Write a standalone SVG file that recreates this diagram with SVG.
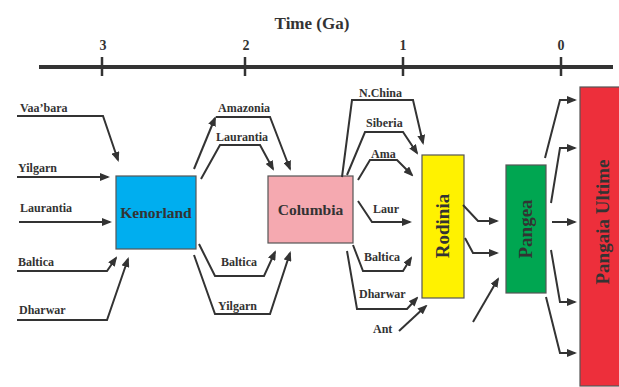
<svg xmlns="http://www.w3.org/2000/svg" width="619" height="387" viewBox="0 0 619 387">
<style>
text{font-family:"Liberation Serif","Times New Roman",serif;font-weight:bold;fill:#333}
.lbl{font-size:12px}
.box{stroke:#555;stroke-width:1.2}
.big{font-size:15.5px;text-anchor:middle}
.vert{font-size:19px;text-anchor:middle}
.axis{stroke:#333;stroke-width:4;fill:none}
.tick{stroke:#333;stroke-width:2.5}
.con{fill:none;stroke:#333;stroke-width:2;marker-end:url(#ah)}
.num{font-size:14px;text-anchor:middle}
</style>
<defs>
<marker id="ah" viewBox="0 0 10 8" refX="8" refY="4" markerWidth="10" markerHeight="8" markerUnits="userSpaceOnUse" orient="auto">
<path d="M0,0 L10,4 L0,8 z" fill="#333"/>
</marker>
</defs>
<rect width="619" height="387" fill="#fff"/>
<g id="timeaxis">
<text x="312" y="29" style="font-size:17px;text-anchor:middle">Time (Ga)</text>
<line class="axis" x1="39" y1="67" x2="613" y2="67"/>
<line class="tick" x1="102" y1="57" x2="102" y2="76"/>
<line class="tick" x1="245" y1="57" x2="245" y2="76"/>
<line class="tick" x1="403" y1="57" x2="403" y2="76"/>
<line class="tick" x1="561" y1="57" x2="561" y2="76"/>
<text class="num" x="103" y="50">3</text>
<text class="num" x="246" y="50">2</text>
<text class="num" x="403" y="50">1</text>
<text class="num" x="561" y="50">0</text>
</g>
<g id="kenorland">
<rect class="box" x="116" y="176" width="80" height="73" fill="#00aeef"/>
<text class="big" x="156" y="218">Kenorland</text>
</g>
<g id="columbia">
<rect class="box" x="268" y="176" width="85" height="67" fill="#f5a9b0"/>
<text class="big" x="310.5" y="215">Columbia</text>
</g>
<g id="rodinia">
<rect class="box" x="422" y="155" width="42" height="143" fill="#fff200"/>
<text class="vert" transform="translate(449,226) rotate(-90)">Rodinia</text>
</g>
<g id="pangea">
<rect class="box" x="506" y="165" width="40" height="128" fill="#00a651"/>
<text class="vert" transform="translate(532,229) rotate(-90)">Pangea</text>
</g>
<g id="pangaia">
<rect class="box" x="580" y="87" width="45" height="299" fill="#ed2f3b"/>
<text class="vert" transform="translate(609,222) rotate(-90)">Pangaia Ultime</text>
</g>
<g id="labels">
<text class="lbl" x="20" y="112">Vaa’bara</text>
<text class="lbl" x="18" y="172">Yilgarn</text>
<text class="lbl" x="20" y="212">Laurantia</text>
<text class="lbl" x="18" y="266">Baltica</text>
<text class="lbl" x="19" y="314">Dharwar</text>
<text class="lbl" x="218" y="112">Amazonia</text>
<text class="lbl" x="216" y="141">Laurantia</text>
<text class="lbl" x="221" y="266">Baltica</text>
<text class="lbl" x="218" y="310">Yilgarn</text>
<text class="lbl" x="359" y="97">N.China</text>
<text class="lbl" x="366" y="127">Siberia</text>
<text class="lbl" x="371" y="158">Ama</text>
<text class="lbl" x="373" y="213">Laur</text>
<text class="lbl" x="364" y="261">Baltica</text>
<text class="lbl" x="359" y="298">Dharwar</text>
<text class="lbl" x="373" y="333">Ant</text>
</g>
<g id="connectors">
<path class="con" d="M17,116 H103 L118,160"/>
<path class="con" d="M17,177 H108"/>
<path class="con" d="M19,222 H110"/>
<path class="con" d="M17,271 H107 L116,258"/>
<path class="con" d="M17,320 H107 L128,259"/>
<path class="con" d="M194,169 L215,118"/>
<path class="con" d="M216,117 H270 L290,169"/>
<path class="con" d="M201,179 L220,145 H260 L273,169"/>
<path class="con" d="M199,244 L215,276 H264 L275,252"/>
<path class="con" d="M194,255 L215,314 H270 L290,253"/>
<path class="con" d="M342,177 L352,100 H413 L423,143"/>
<path class="con" d="M347,175 L365,132 H403 L417,153"/>
<path class="con" d="M358,180 L370,160 H397 L412,175"/>
<path class="con" d="M358,201 L372,222 H410"/>
<path class="con" d="M353,245 L363,271 H403 L411,258"/>
<path class="con" d="M347,251 L357,309 H407 L417,298"/>
<path class="con" d="M399,331 L426,306"/>
<path class="con" d="M463,205 L478,221 H497"/>
<path class="con" d="M465,238 L473,253 H497"/>
<path class="con" d="M473,322 L498,279"/>
<path class="con" d="M545,158 L560,100 H575"/>
<path class="con" d="M551,203 L560,148 H575"/>
<path class="con" d="M552,222 H575"/>
<path class="con" d="M551,250 L560,302 H575"/>
<path class="con" d="M546,297 L560,353 H575"/>
</g>
</svg>
